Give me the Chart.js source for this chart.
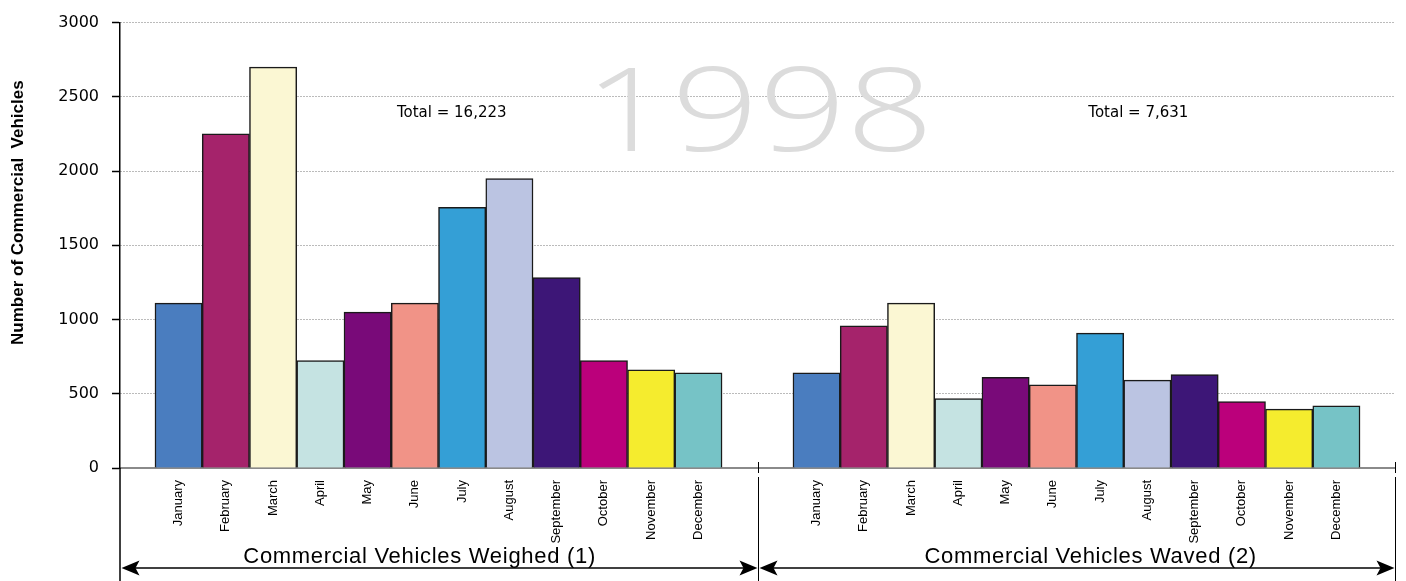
<!DOCTYPE html>
<html lang="en">
<head>
<meta charset="UTF-8">
<title>Commercial Vehicles 1998</title>
<script src="https://cdn.jsdelivr.net/npm/chart.js@4.4.1/dist/chart.umd.min.js"></script>
<style>
  html, body { margin: 0; padding: 0; background: #fff; }
</style>
</head>
<body>
<canvas id="myChart" width="1406" height="581"></canvas>
<script>
// Datos (vehiculos comerciales por mes, 1998)
const months = ['January', 'February', 'March', 'April', 'May', 'June', 'July', 'August', 'September', 'October', 'November', 'December'];
const weighed = [1110, 2250, 2700, 723, 1050, 1110, 1755, 1950, 1283, 723, 661, 641];
const waved = [641, 957, 1110, 467, 610, 561, 908, 592, 630, 448, 397, 419];
const monthColors = ['#4a7dbf', '#a5236b', '#fbf7d3', '#c5e3e2', '#790a79', '#f19387',
                     '#349fd6', '#bbc4e2', '#3d1677', '#bb007b', '#f5ec2e', '#76c3c6'];
const yTicks = [0, 500, 1000, 1500, 2000, 2500, 3000];
const groupNames = ['Commercial Vehicles Weighed (1)', 'Commercial Vehicles Waved (2)'];
const totals = ['Total = 16,223', 'Total = 7,631'];
const yearLabel = '1998';
const yTitle = 'Number of Commercial  Vehicles';

// posicion de cada barra en el eje x (el segundo grupo va despues de un hueco)
const gap = 1.5;
const xWeighed = months.map((m, i) => i + 1);
const xWaved = months.map((m, i) => i + 1 + months.length + gap);

// dibujos extra: año de fondo, totales, titulo del eje, flechas de los grupos
const decor = {
    id: 'decor',
    beforeDatasetsDraw(chart) {
        const { ctx, scales: { x, y } } = chart;
        ctx.save();
        ctx.translate(x.getPixelForValue(13.28), y.getPixelForValue(2137));
        ctx.scale(1.32, 1);
        ctx.font = '300 116px "Open Sans", "DejaVu Sans"';
        ctx.fillStyle = '#dcdcdc';
        ctx.textAlign = 'center';
        ctx.textBaseline = 'alphabetic';
        ctx.fillText(yearLabel, 0, 0);
        ctx.restore();
    },
    afterDraw(chart) {
        const { ctx, chartArea, scales: { x, y } } = chart;
        const bottom = chart.height;
        const arrowY = 568;

        ctx.save();
        // totales
        ctx.font = '15px "DejaVu Sans"';
        ctx.fillStyle = '#000';
        ctx.textAlign = 'left';
        ctx.textBaseline = 'middle';
        [5.62, 20.25].forEach((v, i) => {
            ctx.fillText(totals[i], x.getPixelForValue(v), y.getPixelForValue(2390));
        });

        // titulo del eje y
        ctx.save();
        ctx.translate(18, y.getPixelForValue(1720));
        ctx.rotate(-Math.PI / 2);
        ctx.font = 'bold 17px "Liberation Sans", Arial';
        ctx.textAlign = 'center';
        ctx.textBaseline = 'middle';
        ctx.fillText(yTitle, 0, 0);
        ctx.restore();

        // separadores
        const sepVals = [x.min, (xWeighed[xWeighed.length - 1] + xWaved[0]) / 2, x.max];
        const sep = sepVals.map(v => Math.round(x.getPixelForValue(v)) + 0.5);
        ctx.strokeStyle = '#000';
        ctx.lineWidth = 1.5;
        ctx.beginPath();
        ctx.moveTo(chartArea.left, chartArea.bottom);
        ctx.lineTo(chartArea.left, bottom);
        ctx.stroke();
        ctx.lineWidth = 1;
        [sep[1], sep[2]].forEach(sx => {
            ctx.beginPath();
            ctx.moveTo(sx, chartArea.bottom - 6);
            ctx.lineTo(sx, chartArea.bottom + 5);
            ctx.moveTo(sx, chartArea.bottom + 9);
            ctx.lineTo(sx, bottom);
            ctx.stroke();
        });

        // flechas
        const headLen = 18, headH = 7.5;
        ctx.fillStyle = '#000';
        for (let i = 0; i < 2; i++) {
            const a = sep[i] + 1, b = sep[i + 1] - 1;
            ctx.lineWidth = 1.5;
            ctx.beginPath();
            ctx.moveTo(a + 5, arrowY);
            ctx.lineTo(b - 5, arrowY);
            ctx.stroke();
            ctx.beginPath();
            ctx.moveTo(a, arrowY);
            ctx.lineTo(a + headLen, arrowY - headH);
            ctx.lineTo(a + headLen - 4, arrowY);
            ctx.lineTo(a + headLen, arrowY + headH);
            ctx.closePath();
            ctx.fill();
            ctx.beginPath();
            ctx.moveTo(b, arrowY);
            ctx.lineTo(b - headLen, arrowY - headH);
            ctx.lineTo(b - headLen + 4, arrowY);
            ctx.lineTo(b - headLen, arrowY + headH);
            ctx.closePath();
            ctx.fill();
        }

        // nombres de los grupos
        ctx.font = '22px "Liberation Sans", Arial';
        ctx.letterSpacing = '0.7px';
        ctx.textAlign = 'center';
        ctx.textBaseline = 'alphabetic';
        [6.1, 20.3].forEach((v, i) => {
            ctx.fillText(groupNames[i], x.getPixelForValue(v), 563);
        });
        ctx.restore();
    }
};

const config = {
    type: 'bar',
    data: {
        datasets: [
            {
                label: 'Weighed',
                data: weighed.map((v, i) => ({ x: xWeighed[i], y: v })),
                backgroundColor: monthColors,
                borderColor: '#1a1a1a',
                borderWidth: 1.5
            },
            {
                label: 'Waved',
                data: waved.map((v, i) => ({ x: xWaved[i], y: v })),
                backgroundColor: monthColors,
                borderColor: '#1a1a1a',
                borderWidth: 1.5
            }
        ]
    },
    options: {
        responsive: false,
        animation: false,
        devicePixelRatio: 1,
        grouped: false,
        barPercentage: 1,
        categoryPercentage: 1,
        layout: { padding: { top: 18, right: 11, left: 0, bottom: 0 } },
        plugins: {
            legend: { display: false },
            tooltip: { enabled: false }
        },
        scales: {
            x: {
                type: 'linear',
                offset: false,
                min: -0.24,
                max: 26.74,
                grid: { display: false, drawTicks: false, offset: false },
                border: { color: '#8a8a8a', width: 2 },
                afterBuildTicks(scale) {
                    scale.ticks = xWeighed.concat(xWaved).map(v => ({ value: v }));
                },
                afterFit(scale) { scale.height = 113; },
                ticks: {
                    autoSkip: false,
                    maxRotation: 90,
                    minRotation: 90,
                    padding: 12,
                    color: '#000',
                    font: { family: '"Liberation Sans", Arial', size: 13 },
                    callback: (value, index) => months[index % months.length]
                }
            },
            y: {
                min: 0,
                max: 3000,
                afterBuildTicks(scale) {
                    scale.ticks = yTicks.map(v => ({ value: v }));
                },
                afterFit(scale) { scale.width = 120; },
                grid: {
                    color: '#777',
                    lineWidth: 1,
                    tickColor: '#000',
                    tickLength: 8,
                    tickWidth: 1.5
                },
                border: { color: '#000', width: 1.5, dash: [1, 2] },
                ticks: {
                    padding: 13,
                    color: '#000',
                    font: { family: '"DejaVu Sans"', size: 16 },
                    callback: value => String(value)
                }
            }
        }
    },
    plugins: [decor]
};

var myChart = new Chart(document.getElementById('myChart'), config);
</script>
</body>
</html>
